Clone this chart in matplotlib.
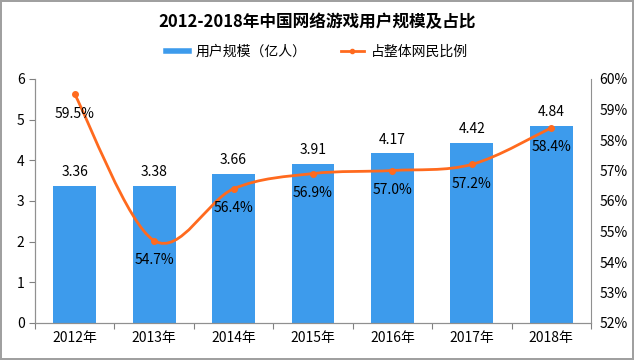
import matplotlib
matplotlib.use("Agg")
import matplotlib.pyplot as plt
import numpy as np
from matplotlib.path import Path
from matplotlib.patches import PathPatch
from matplotlib.lines import Line2D

plt.rcParams['font.family'] = ['Noto Sans CJK SC', 'DejaVu Sans']

years = ["2012年", "2013年", "2014年", "2015年", "2016年", "2017年", "2018年"]
users = [3.36, 3.38, 3.66, 3.91, 4.17, 4.42, 4.84]
share = [59.5, 54.7, 56.4, 56.9, 57.0, 57.2, 58.4]

bar_color = "#3d9bec"
line_color = "#ff6a1e"

fig = plt.figure(figsize=(6.34, 3.6), dpi=100, linewidth=1.5, edgecolor="#a0a0a0")
ax = fig.add_axes([35 / 634, 1 - 323 / 360, (591 - 35) / 634, (323 - 79) / 360])
ax2 = ax.twinx()

x = np.arange(len(years))
ax.bar(x, users, width=0.54, color=bar_color, zorder=2)
for xi, v in zip(x, users):
    ax.annotate(f"{v:.2f}", (xi, v), xytext=(0, 10), textcoords="offset points",
                ha="center", va="center", fontsize=10)

ax.set_xlim(-0.5, len(years) - 0.5)
ax.set_ylim(0, 6)
ax.set_yticks(range(0, 7))
ax.set_xticks(np.arange(-0.5, len(years), 1.0))
ax.set_xticklabels([])
ax.set_xticks(x, minor=True)
ax.set_xticklabels(years, minor=True, fontsize=10)
ax.tick_params(axis="x", which="major", length=4, direction="out", color="#808080")
ax.tick_params(axis="x", which="minor", length=0, pad=6)
ax.tick_params(axis="y", length=4, direction="out", color="#808080", labelsize=10)

# smoothed line (Catmull-Rom through the data points as bezier segments)
pts = np.column_stack([x, share]).astype(float)
verts = [tuple(pts[0])]
codes = [Path.MOVETO]
for i in range(len(pts) - 1):
    p0 = pts[i - 1] if i > 0 else pts[i]
    p1, p2 = pts[i], pts[i + 1]
    p3 = pts[i + 2] if i + 2 < len(pts) else pts[i + 1]
    c1 = p1 + (p2 - p0) / 6.0
    c2 = p2 - (p3 - p1) / 6.0
    verts += [tuple(c1), tuple(c2), tuple(p2)]
    codes += [Path.CURVE4] * 3
ax2.add_patch(PathPatch(Path(verts, codes), facecolor="none", edgecolor=line_color,
                        linewidth=2, zorder=3))
ax2.plot(x, share, "o", color=line_color, markersize=4, zorder=4)
for xi, v in zip(x, share):
    ax2.annotate(f"{v:.1f}%", (xi, v), xytext=(0, -14), textcoords="offset points",
                 ha="center", va="center", fontsize=10)

ax2.set_ylim(52, 60)
ax2.set_yticks(range(52, 61))
ax2.set_yticklabels([f"{t}%" for t in range(52, 61)])
ax2.tick_params(axis="y", length=0, labelsize=10, pad=6)

for a in (ax, ax2):
    a.spines["top"].set_visible(False)
    for s in ("left", "right", "bottom"):
        a.spines[s].set_color("#909090")
ax.spines["right"].set_visible(False)

fig.text(0.5, 1 - 22 / 360, "2012-2018年中国网络游戏用户规模及占比", ha="center", va="center",
         fontsize=12, fontweight="bold")

handles = [Line2D([0], [0], color=bar_color, linewidth=4),
           Line2D([0], [0], color=line_color, linewidth=2, marker="o", markersize=3)]
fig.legend(handles, ["用户规模（亿人）", "占整体网民比例"], loc="center",
           bbox_to_anchor=(0.5, 1 - 52 / 360), ncol=2, frameon=False, fontsize=10,
           handlelength=1.6, columnspacing=2.5, handletextpad=0.5)

fig.savefig("out.png", dpi=100)
